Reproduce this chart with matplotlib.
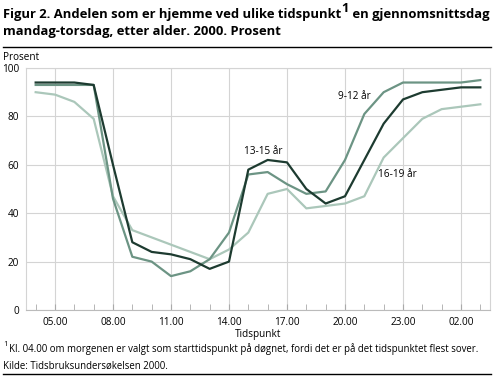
import matplotlib.pyplot as plt

plt.rcParams['font.family'] = ['Open Sans', 'DejaVu Sans']

# Hours from 04.00 to 03.00 next day
hours = list(range(4, 28))
age_9_12 = [93, 93, 93, 93, 46, 22, 20, 14, 16, 21, 32, 56,
            57, 52, 48, 49, 62, 81, 90, 94, 94, 94, 94, 95]
age_13_15 = [94, 94, 94, 93, 60, 28, 24, 23, 21, 17, 20, 58,
             62, 61, 50, 44, 47, 62, 77, 87, 90, 91, 92, 92]
age_16_19 = [90, 89, 86, 79, 47, 33, 30, 27, 24, 21, 25, 32,
             48, 50, 42, 43, 44, 47, 63, 71, 79, 83, 84, 85]
tick_hours = [5, 8, 11, 14, 17, 20, 23, 26]
tick_labels = ["%02d.00" % (h % 24) for h in tick_hours]

fig = plt.figure(figsize=(4.93, 3.77), dpi=100)
ax = fig.add_axes([26 / 493, 67 / 377, 464 / 493, 242 / 377])

ax.plot(hours, age_16_19, color="#abc7ba", lw=1.6)
ax.plot(hours, age_9_12, color="#6c9484", lw=1.6)
ax.plot(hours, age_13_15, color="#1d3b30", lw=1.6)

ax.text(20.46, 88.1, "9-12 år", fontsize=7.2, ha="center", va="center")
ax.text(15.78, 65.4, "13-15 år", fontsize=7.2, ha="center", va="center")
ax.text(22.71, 55.8, "16-19 år", fontsize=7.2, ha="center", va="center")

ax.set_xlim(3.5, 27.5)
ax.set_ylim(0, 100)
ax.set_yticks([0, 20, 40, 60, 80, 100])
ax.set_xticks(tick_hours)
ax.set_xticklabels(tick_labels)
ax.set_xticks(hours, minor=True)
ax.grid(True, color="#d4d4d4", lw=0.8)
ax.set_axisbelow(True)
for s in ax.spines.values():
    s.set_color("#d4d4d4")
    s.set_linewidth(0.8)
ax.spines["bottom"].set_color("#bbbbbb")
ax.tick_params(axis="y", length=0, pad=5, labelsize=7.2)
ax.tick_params(axis="x", which="both", direction="in", length=4,
               color="#aaaaaa", pad=5, labelsize=7.2)
ax.set_xlabel("Tidspunkt", fontsize=7.2, labelpad=1)

fig.canvas.draw()
r = fig.canvas.get_renderer()

# fit title size to the width of the original's second line
t2 = fig.text(3 / 493, 1 - 35 / 377, "mandag-torsdag, etter alder. 2000. Prosent",
              fontsize=10, fontweight="bold", va="baseline")
w = t2.get_window_extent(renderer=r).width
tsize = 10 * 277 / w
t2.set_fontsize(tsize)

t1 = fig.text(3 / 493, 1 - 18 / 377, "Figur 2. Andelen som er hjemme ved ulike tidspunkt",
              fontsize=tsize, fontweight="bold", va="baseline")
bb = t1.get_window_extent(renderer=r)
sup = fig.text(bb.x1 / 493 + 0.001, 1 - 12.5 / 377, "1", fontsize=tsize,
               fontweight="bold", va="baseline")
bb2 = sup.get_window_extent(renderer=r)
fig.text(bb2.x1 / 493, 1 - 18 / 377, " en gjennomsnittsdag",
         fontsize=tsize, fontweight="bold", va="baseline")

fig.add_artist(plt.Line2D([3 / 493, 491 / 493], [1 - 47 / 377, 1 - 47 / 377],
                          color="black", lw=1))
fig.add_artist(plt.Line2D([3 / 493, 491 / 493], [1 - 374 / 377, 1 - 374 / 377],
                          color="black", lw=1))

fig.text(3 / 493, 1 - 57 / 377, "Prosent", fontsize=7.2, va="center")
fig.text(3 / 493, 1 - 344 / 377, "1", fontsize=5.5, va="center")
fig.text(9 / 493, 1 - 349 / 377,
         "Kl. 04.00 om morgenen er valgt som starttidspunkt på døgnet, fordi det er på det tidspunktet flest sover.",
         fontsize=6.9, va="center")
fig.text(3 / 493, 1 - 366 / 377, "Kilde: Tidsbruksundersøkelsen 2000.",
         fontsize=6.9, va="center")

fig.savefig("out.png", dpi=100)
